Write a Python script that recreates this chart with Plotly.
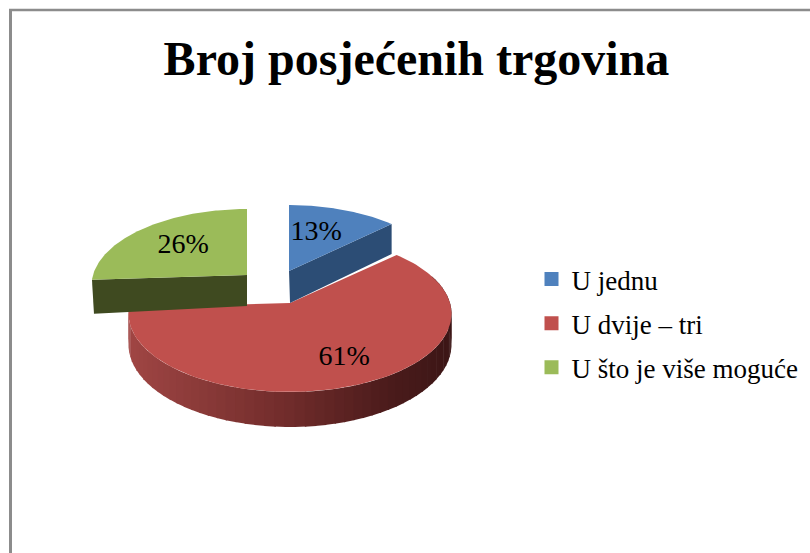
import math
import plotly.graph_objects as go

# ---- data ----
categories = ["U jednu", "U dvije – tri", "U što je više moguće"]
values = [13, 61, 26]
title_text = "Broj posjećenih trgovina"

# ---- style / layout constants ----
W, H = 810, 553
top_colors = ["#4f81bd", "#c0504d", "#9bbb59"]
wall_colors = ["#2c4d75", None, "#3f4a20"]
centers = [(289, 271), (290, 303), (247, 275)]
radii = [(154, 75), (160, 76.8), (154, 75)]
label_radius = [0.57, 0.72, 0.60]
label_turn = [-4, -2, 0]
persp = 0.137
FONT = "Liberation Serif"

total = sum(values)
spans = []
a = 0.0
for v in values:
    spans.append((a, a + 360.0 * v / total))
    a += 360.0 * v / total


def proj(i, deg, r=1.0):
    t = math.radians(deg)
    X, Z = math.sin(t) * r, math.cos(t) * r
    p = 1 / (1 + persp * Z)
    cx, cy = centers[i]
    rx, ry = radii[i]
    return cx + rx * X * p, cy - ry * Z * p


def arc(i, a0, a1, n=120):
    return [proj(i, a0 + (a1 - a0) * k / n) for k in range(n + 1)]


def poly(fig, pts, color, line=None):
    xs = [p[0] for p in pts] + [pts[0][0]]
    ys = [p[1] for p in pts] + [pts[0][1]]
    fig.add_trace(go.Scatter(
        x=xs, y=ys, mode="lines", fill="toself", fillcolor=color,
        line=dict(color=line or color, width=0.6 if line else 0),
        hoverinfo="skip", showlegend=False))


def mix(c0, c1, f):
    return "rgb(%d,%d,%d)" % tuple(c0[j] + (c1[j] - c0[j]) * f for j in range(3))


def red_depth(deg):
    Z = math.cos(math.radians(deg))
    return 30.2 / (1 + persp * Z)


fig = go.Figure()

# red rim, shaded strip by strip from left to right
a0, a1 = spans[1]
n = 70
grad = [(0.0, (160, 70, 68)), (0.5, (112, 44, 43)), (0.8, (76, 28, 28)), (1.0, (60, 22, 22))]


def grad_col(f):
    for (f0, c0), (f1, c1) in zip(grad, grad[1:]):
        if f <= f1:
            return mix(c0, c1, (f - f0) / (f1 - f0))
    return mix(grad[-1][1], grad[-1][1], 0)


for k in range(n):
    d0 = a1 - (a1 - a0) * k / n
    d1 = a1 - (a1 - a0) * (k + 1.15) / n
    d1 = max(d1, a0)
    if math.cos(math.radians((d0 + d1) / 2)) > 0.35:
        continue
    top = arc(1, d0, d1, 4)
    bot = [(x, y + red_depth(d0 + (d1 - d0) * j / 4)) for j, (x, y) in enumerate(top)]
    xmid = top[2][0]
    f = min(1, max(0, (xmid - 130) / 322))
    poly(fig, top + bot[::-1], grad_col(f))

# red top face
poly(fig, [centers[1]] + arc(1, a0, a1), top_colors[1])

# blue wall and top
a0, a1 = spans[0]
rim = proj(0, a1)
ax, ay = centers[0]
poly(fig, [(ax, ay), rim, (rim[0], rim[1] + 30), (ax + 1, ay + 32)], wall_colors[0])
poly(fig, [centers[0]] + arc(0, a0, a1), top_colors[0])

# green wall and top
a0, a1 = spans[2]
rim = proj(2, a0)
ax, ay = centers[2]
poly(fig, [(ax, ay), rim, (rim[0] + 2, rim[1] + 34), (ax, ay + 31)], wall_colors[2])
poly(fig, [centers[2]] + arc(2, a0, a1), top_colors[2])

# percentage labels, placed along each slice's middle angle
for i, v in enumerate(values):
    mid = sum(spans[i]) / 2 + label_turn[i]
    x, y = proj(i, mid, label_radius[i])
    fig.add_trace(go.Scatter(
        x=[x], y=[y], mode="text", text=[f"{v}%"], textposition="middle center",
        textfont=dict(family=FONT, size=28, color="#000000"),
        hoverinfo="skip", showlegend=False))

# legend entries
for i, c in enumerate(categories):
    fig.add_trace(go.Scatter(
        x=[None], y=[None], mode="markers", name=c, legendgroup=c,
        marker=dict(symbol="square", size=14, color=top_colors[i]),
        showlegend=True))

fig.update_layout(
    width=W, height=H, autosize=False,
    margin=dict(l=0, r=0, t=0, b=0),
    paper_bgcolor="#ffffff", plot_bgcolor="#ffffff",
    xaxis=dict(range=[0, W], visible=False, fixedrange=True),
    yaxis=dict(range=[H, 0], visible=False, fixedrange=True),
    title=dict(text="<b>" + title_text + "</b>", x=416.5 / W, xanchor="center",
               y=1 - 58 / H, yanchor="middle",
               font=dict(family=FONT, size=48, color="#000000")),
    legend=dict(x=531.5 / W, xanchor="left", y=1 - 255 / H, yanchor="top",
                font=dict(family=FONT, size=27, color="#000000"),
                tracegroupgap=6, bgcolor="rgba(0,0,0,0)", itemclick=False,
                itemdoubleclick=False),
    shapes=[
        dict(type="line", xref="x", yref="y", x0=9, x1=W, y0=10, y1=10,
             line=dict(color="#8c8c8c", width=2.5)),
        dict(type="line", xref="x", yref="y", x0=10.5, x1=10.5, y0=9, y1=H,
             line=dict(color="#8c8c8c", width=3)),
    ],
)

fig.write_html("out.html", config=dict(displayModeBar=False),
               post_script="document.body.style.margin='0';document.body.style.overflow='hidden';")
